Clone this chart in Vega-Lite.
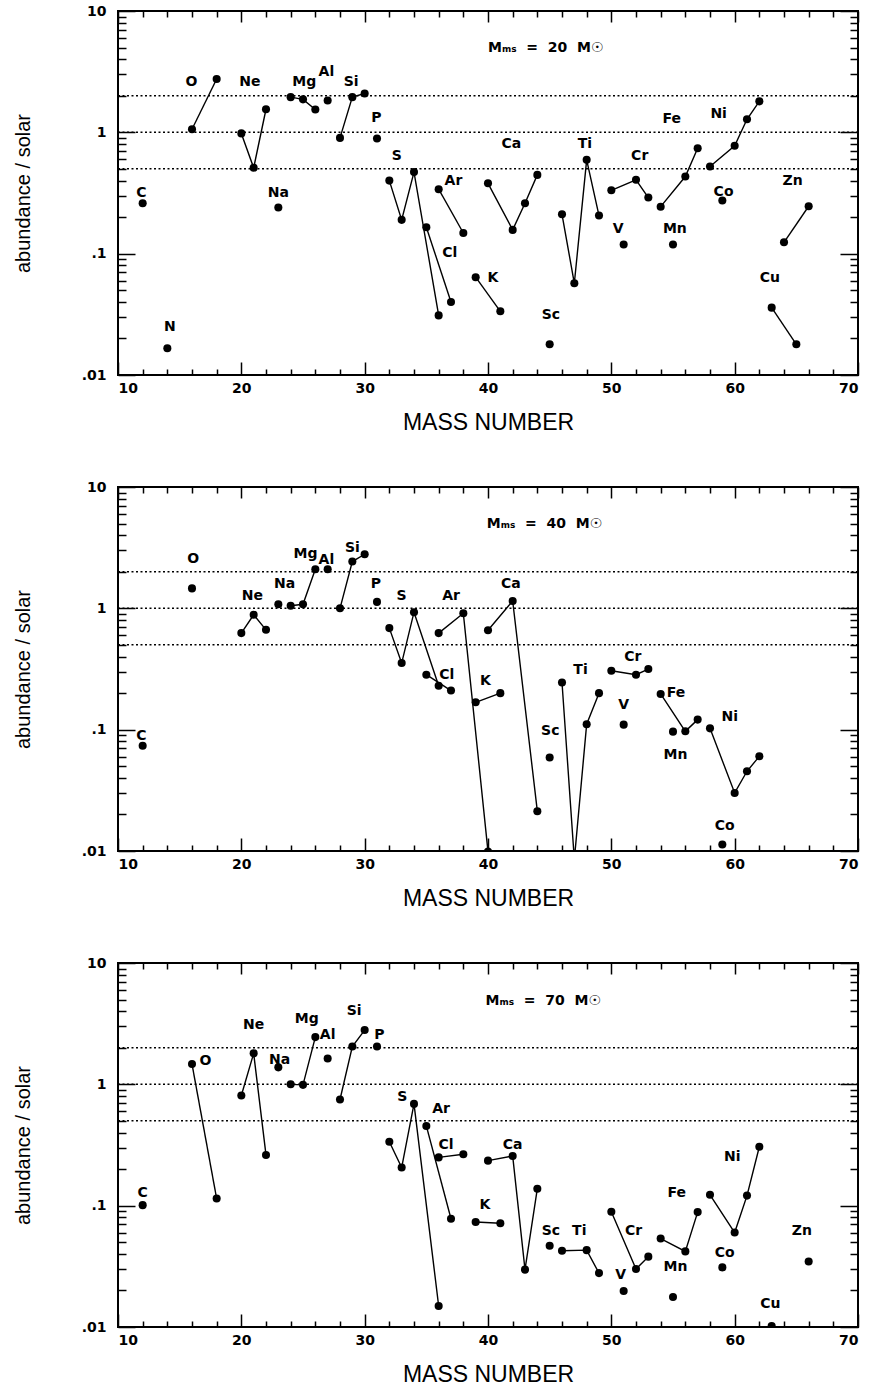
{
"$schema": "https://vega.github.io/schema/vega-lite/v6.json",
"padding": {"left": 12, "top": 3, "right": 5, "bottom": 5},
"background": "white",
"datasets": {
"refs": [{"v": 0.5}, {"v": 1}, {"v": 2}],
"titles": [
{"panel": "a", "A": 40.0, "v": 5.0, "t": "M\u2098\u209b\u00a0\u00a0=\u00a0\u00a020\u00a0\u00a0M\u2609"},
{"panel": "b", "A": 39.9, "v": 4.93, "t": "M\u2098\u209b\u00a0\u00a0=\u00a0\u00a040\u00a0\u00a0M\u2609"},
{"panel": "c", "A": 39.8, "v": 4.82, "t": "M\u2098\u209b\u00a0\u00a0=\u00a0\u00a070\u00a0\u00a0M\u2609"}
],
"pts": [
{"panel":"a","el":"C","A":12,"v":0.26},
{"panel":"a","el":"N","A":14,"v":0.0166},
{"panel":"a","el":"O","A":16,"v":1.06},{"panel":"a","el":"O","A":18,"v":2.75},
{"panel":"a","el":"Ne","A":20,"v":0.98},{"panel":"a","el":"Ne","A":21,"v":0.51},{"panel":"a","el":"Ne","A":22,"v":1.55},
{"panel":"a","el":"Na","A":23,"v":0.24},
{"panel":"a","el":"Mg","A":24,"v":1.95},{"panel":"a","el":"Mg","A":25,"v":1.87},{"panel":"a","el":"Mg","A":26,"v":1.54},
{"panel":"a","el":"Al","A":27,"v":1.83},
{"panel":"a","el":"Si","A":28,"v":0.90},{"panel":"a","el":"Si","A":29,"v":1.95},{"panel":"a","el":"Si","A":30,"v":2.09},
{"panel":"a","el":"P","A":31,"v":0.89},
{"panel":"a","el":"S","A":32,"v":0.40},{"panel":"a","el":"S","A":33,"v":0.19},{"panel":"a","el":"S","A":34,"v":0.47},{"panel":"a","el":"S","A":36,"v":0.031},
{"panel":"a","el":"Cl","A":35,"v":0.165},{"panel":"a","el":"Cl","A":37,"v":0.040},
{"panel":"a","el":"Ar","A":36,"v":0.34},{"panel":"a","el":"Ar","A":38,"v":0.148},
{"panel":"a","el":"K","A":39,"v":0.064},{"panel":"a","el":"K","A":41,"v":0.0335},
{"panel":"a","el":"Ca","A":40,"v":0.38},{"panel":"a","el":"Ca","A":42,"v":0.157},{"panel":"a","el":"Ca","A":43,"v":0.26},{"panel":"a","el":"Ca","A":44,"v":0.446},
{"panel":"a","el":"Sc","A":45,"v":0.0179},
{"panel":"a","el":"Ti","A":46,"v":0.211},{"panel":"a","el":"Ti","A":47,"v":0.057},{"panel":"a","el":"Ti","A":48,"v":0.593},{"panel":"a","el":"Ti","A":49,"v":0.206},
{"panel":"a","el":"V","A":51,"v":0.119},
{"panel":"a","el":"Cr","A":50,"v":0.333},{"panel":"a","el":"Cr","A":52,"v":0.406},{"panel":"a","el":"Cr","A":53,"v":0.29},
{"panel":"a","el":"Mn","A":55,"v":0.119},
{"panel":"a","el":"Fe","A":54,"v":0.244},{"panel":"a","el":"Fe","A":56,"v":0.432},{"panel":"a","el":"Fe","A":57,"v":0.74},
{"panel":"a","el":"Co","A":59,"v":0.274},
{"panel":"a","el":"Ni","A":58,"v":0.522},{"panel":"a","el":"Ni","A":60,"v":0.774},{"panel":"a","el":"Ni","A":61,"v":1.28},{"panel":"a","el":"Ni","A":62,"v":1.80},
{"panel":"a","el":"Cu","A":63,"v":0.0359},{"panel":"a","el":"Cu","A":65,"v":0.0179},
{"panel":"a","el":"Zn","A":64,"v":0.124},{"panel":"a","el":"Zn","A":66,"v":0.246},

{"panel":"b","el":"C","A":12,"v":0.0738},
{"panel":"b","el":"O","A":16,"v":1.46},
{"panel":"b","el":"Ne","A":20,"v":0.625},{"panel":"b","el":"Ne","A":21,"v":0.885},{"panel":"b","el":"Ne","A":22,"v":0.665},
{"panel":"b","el":"Na","A":23,"v":1.08},
{"panel":"b","el":"Mg","A":24,"v":1.05},{"panel":"b","el":"Mg","A":25,"v":1.08},{"panel":"b","el":"Mg","A":26,"v":2.10},
{"panel":"b","el":"Al","A":27,"v":2.10},
{"panel":"b","el":"Si","A":28,"v":1.0},{"panel":"b","el":"Si","A":29,"v":2.43},{"panel":"b","el":"Si","A":30,"v":2.79},
{"panel":"b","el":"P","A":31,"v":1.13},
{"panel":"b","el":"S","A":32,"v":0.687},{"panel":"b","el":"S","A":33,"v":0.354},{"panel":"b","el":"S","A":34,"v":0.93},{"panel":"b","el":"S","A":36,"v":0.23},
{"panel":"b","el":"Cl","A":35,"v":0.284},{"panel":"b","el":"Cl","A":37,"v":0.21},
{"panel":"b","el":"Ar","A":36,"v":0.625},{"panel":"b","el":"Ar","A":38,"v":0.91},{"panel":"b","el":"Ar","A":40,"v":0.0099},
{"panel":"b","el":"K","A":39,"v":0.168},{"panel":"b","el":"K","A":41,"v":0.20},
{"panel":"b","el":"Ca","A":40,"v":0.66},{"panel":"b","el":"Ca","A":42,"v":1.15},{"panel":"b","el":"Ca","A":44,"v":0.0213},
{"panel":"b","el":"Sc","A":45,"v":0.059},
{"panel":"b","el":"Ti","A":46,"v":0.245},{"panel":"b","el":"Ti","A":47,"v":0.0085},{"panel":"b","el":"Ti","A":48,"v":0.111},{"panel":"b","el":"Ti","A":49,"v":0.20},
{"panel":"b","el":"V","A":51,"v":0.11},
{"panel":"b","el":"Cr","A":50,"v":0.306},{"panel":"b","el":"Cr","A":52,"v":0.284},{"panel":"b","el":"Cr","A":53,"v":0.316},
{"panel":"b","el":"Mn","A":55,"v":0.0963},
{"panel":"b","el":"Fe","A":54,"v":0.197},{"panel":"b","el":"Fe","A":56,"v":0.0969},{"panel":"b","el":"Fe","A":57,"v":0.121},
{"panel":"b","el":"Co","A":59,"v":0.0113},
{"panel":"b","el":"Ni","A":58,"v":0.1025},{"panel":"b","el":"Ni","A":60,"v":0.0301},{"panel":"b","el":"Ni","A":61,"v":0.0454},{"panel":"b","el":"Ni","A":62,"v":0.0603},

{"panel":"c","el":"C","A":12,"v":0.101},
{"panel":"c","el":"O","A":16,"v":1.47},{"panel":"c","el":"O","A":18,"v":0.1145},
{"panel":"c","el":"Ne","A":20,"v":0.81},{"panel":"c","el":"Ne","A":21,"v":1.80},{"panel":"c","el":"Ne","A":22,"v":0.262},
{"panel":"c","el":"Na","A":23,"v":1.38},
{"panel":"c","el":"Mg","A":24,"v":1.0},{"panel":"c","el":"Mg","A":25,"v":0.99},{"panel":"c","el":"Mg","A":26,"v":2.45},
{"panel":"c","el":"Al","A":27,"v":1.63},
{"panel":"c","el":"Si","A":28,"v":0.75},{"panel":"c","el":"Si","A":29,"v":2.05},{"panel":"c","el":"Si","A":30,"v":2.80},
{"panel":"c","el":"P","A":31,"v":2.05},
{"panel":"c","el":"S","A":32,"v":0.336},{"panel":"c","el":"S","A":33,"v":0.206},{"panel":"c","el":"S","A":34,"v":0.69},{"panel":"c","el":"S","A":36,"v":0.0149},
{"panel":"c","el":"Cl","A":35,"v":0.454},{"panel":"c","el":"Cl","A":37,"v":0.078},
{"panel":"c","el":"Ar","A":36,"v":0.25},{"panel":"c","el":"Ar","A":38,"v":0.265},
{"panel":"c","el":"K","A":39,"v":0.0733},{"panel":"c","el":"K","A":41,"v":0.0716},
{"panel":"c","el":"Ca","A":40,"v":0.235},{"panel":"c","el":"Ca","A":42,"v":0.257},{"panel":"c","el":"Ca","A":43,"v":0.0297},{"panel":"c","el":"Ca","A":44,"v":0.138},
{"panel":"c","el":"Sc","A":45,"v":0.0467},
{"panel":"c","el":"Ti","A":46,"v":0.0425},{"panel":"c","el":"Ti","A":48,"v":0.043},{"panel":"c","el":"Ti","A":49,"v":0.0278},
{"panel":"c","el":"V","A":51,"v":0.0198},
{"panel":"c","el":"Cr","A":50,"v":0.089},{"panel":"c","el":"Cr","A":52,"v":0.0301},{"panel":"c","el":"Cr","A":53,"v":0.038},
{"panel":"c","el":"Mn","A":55,"v":0.0177},
{"panel":"c","el":"Fe","A":54,"v":0.0536},{"panel":"c","el":"Fe","A":56,"v":0.042},{"panel":"c","el":"Fe","A":57,"v":0.0885},
{"panel":"c","el":"Co","A":59,"v":0.031},
{"panel":"c","el":"Ni","A":58,"v":0.123},{"panel":"c","el":"Ni","A":60,"v":0.060},{"panel":"c","el":"Ni","A":61,"v":0.121},{"panel":"c","el":"Ni","A":62,"v":0.306},
{"panel":"c","el":"Cu","A":63,"v":0.0102},
{"panel":"c","el":"Zn","A":66,"v":0.0346}
],
"labels": [
{"panel":"a","t":"O","A":15.95,"v":2.58},{"panel":"a","t":"Ne","A":20.7,"v":2.58},{"panel":"a","t":"Mg","A":25.1,"v":2.58},{"panel":"a","t":"Al","A":26.9,"v":3.15},{"panel":"a","t":"Si","A":28.9,"v":2.58},{"panel":"a","t":"P","A":30.95,"v":1.31},{"panel":"a","t":"S","A":32.6,"v":0.64},{"panel":"a","t":"Ar","A":37.2,"v":0.40},{"panel":"a","t":"Ca","A":41.9,"v":0.80},{"panel":"a","t":"Ti","A":47.85,"v":0.80},{"panel":"a","t":"Cr","A":52.3,"v":0.64},{"panel":"a","t":"Fe","A":54.9,"v":1.28},{"panel":"a","t":"Ni","A":58.7,"v":1.41},{"panel":"a","t":"Zn","A":64.7,"v":0.40},{"panel":"a","t":"Co","A":59.1,"v":0.325},{"panel":"a","t":"C","A":11.9,"v":0.318},{"panel":"a","t":"Na","A":23.0,"v":0.318},{"panel":"a","t":"N","A":14.2,"v":0.025},{"panel":"a","t":"Cl","A":36.9,"v":0.102},{"panel":"a","t":"K","A":40.4,"v":0.0634},{"panel":"a","t":"Sc","A":45.1,"v":0.0312},{"panel":"a","t":"V","A":50.55,"v":0.161},{"panel":"a","t":"Mn","A":55.15,"v":0.161},{"panel":"a","t":"Cu","A":62.85,"v":0.0634},
{"panel":"b","t":"O","A":16.1,"v":2.54},{"panel":"b","t":"Ne","A":20.9,"v":1.27},{"panel":"b","t":"Na","A":23.5,"v":1.58},{"panel":"b","t":"Mg","A":25.2,"v":2.79},{"panel":"b","t":"Al","A":26.9,"v":2.49},{"panel":"b","t":"Si","A":29.0,"v":3.13},{"panel":"b","t":"P","A":30.9,"v":1.58},{"panel":"b","t":"S","A":33.0,"v":1.27},{"panel":"b","t":"Ar","A":37.0,"v":1.27},{"panel":"b","t":"Ca","A":41.85,"v":1.58},{"panel":"b","t":"Cl","A":36.65,"v":0.284},{"panel":"b","t":"K","A":39.8,"v":0.25},{"panel":"b","t":"Ti","A":47.5,"v":0.31},{"panel":"b","t":"Cr","A":51.75,"v":0.394},{"panel":"b","t":"Sc","A":45.05,"v":0.098},{"panel":"b","t":"V","A":51.0,"v":0.16},{"panel":"b","t":"Fe","A":55.25,"v":0.199},{"panel":"b","t":"Ni","A":59.6,"v":0.126},{"panel":"b","t":"Mn","A":55.2,"v":0.0623},{"panel":"b","t":"Co","A":59.2,"v":0.016},{"panel":"b","t":"C","A":11.9,"v":0.089},
{"panel":"c","t":"O","A":17.1,"v":1.56},{"panel":"c","t":"Ne","A":21.0,"v":3.1},{"panel":"c","t":"Na","A":23.1,"v":1.58},{"panel":"c","t":"Mg","A":25.3,"v":3.48},{"panel":"c","t":"Al","A":27.0,"v":2.53},{"panel":"c","t":"Si","A":29.15,"v":4.0},{"panel":"c","t":"P","A":31.2,"v":2.53},{"panel":"c","t":"S","A":33.05,"v":0.783},{"panel":"c","t":"Ar","A":36.2,"v":0.63},{"panel":"c","t":"Cl","A":36.6,"v":0.316},{"panel":"c","t":"K","A":39.75,"v":0.101},{"panel":"c","t":"Ca","A":42.0,"v":0.316},{"panel":"c","t":"Sc","A":45.1,"v":0.062},{"panel":"c","t":"Ti","A":47.4,"v":0.062},{"panel":"c","t":"Cr","A":51.8,"v":0.062},{"panel":"c","t":"V","A":50.75,"v":0.0266},{"panel":"c","t":"Mn","A":55.2,"v":0.031},{"panel":"c","t":"Fe","A":55.3,"v":0.126},{"panel":"c","t":"Ni","A":59.8,"v":0.25},{"panel":"c","t":"Co","A":59.2,"v":0.0407},{"panel":"c","t":"Cu","A":62.9,"v":0.0156},{"panel":"c","t":"Zn","A":65.45,"v":0.062},{"panel":"c","t":"C","A":12.0,"v":0.127}
]
},
"vconcat": [
{
"width": 740, "height": 364,
"resolve": {"axis": {"x": "independent", "y": "independent"}},
"layer": [
{"data": {"name": "refs"}, "mark": {"type": "rule", "color": "black", "strokeWidth": 1.5, "strokeDash": [2, 2.5]},
 "encoding": {
  "x": {"datum": 10, "type": "quantitative", "scale": {"domain": [10, 70], "nice": false, "zero": false}, "axis": {"orient": "bottom", "values": [10, 20, 30, 40, 50, 60, 70], "ticks": false, "labelPadding": 6, "title": "MASS NUMBER", "titlePadding": 16}},
  "x2": {"datum": 70},
  "y": {"field": "v", "type": "quantitative", "scale": {"type": "log", "domain": [0.01, 10], "nice": false}, "axis": {"orient": "left", "values": [0.01, 0.1, 1, 10], "ticks": false, "labelPadding": 12, "labelExpr": "datum.value == 10 ? '10' : datum.value == 1 ? '1' : datum.value == 0.1 ? '.1' : '.01'", "title": "abundance / solar", "titlePadding": 48}}}},
{"data": {"name": "pts"}, "transform": [{"filter": "datum.panel == 'a'"}], "mark": {"type": "line", "color": "black", "strokeWidth": 1.4, "clip": true},
 "encoding": {"x": {"field": "A", "type": "quantitative", "scale": {"domain": [10, 70], "nice": false, "zero": false}, "axis": {"orient": "top", "offset": -364, "values": [10, 20, 30, 40, 50, 60, 70], "tickSize": 13, "labels": false, "title": null}},
  "y": {"field": "v", "type": "quantitative", "scale": {"type": "log", "domain": [0.01, 10], "nice": false}, "axis": {"orient": "right", "offset": -740, "values": [0.01, 0.1, 1, 10], "tickSize": 17, "labels": false, "title": null}},
  "detail": {"field": "el"}, "order": {"field": "A", "type": "quantitative"}}},
{"data": {"name": "pts"}, "transform": [{"filter": "datum.panel == 'a'"}], "mark": {"type": "point", "filled": true, "color": "black", "opacity": 1, "size": 65, "clip": true},
 "encoding": {"x": {"field": "A", "type": "quantitative", "scale": {"domain": [10, 70], "nice": false, "zero": false}, "axis": {"orient": "top", "offset": -364, "values": [12,14,16,18,22,24,26,28,32,34,36,38,42,44,46,48,52,54,56,58,62,64,66,68], "tickSize": 6, "labels": false, "title": null}},
  "y": {"field": "v", "type": "quantitative", "scale": {"type": "log", "domain": [0.01, 10], "nice": false}, "axis": {"orient": "right", "offset": -740, "values": [0.02,0.03,0.04,0.05,0.06,0.07,0.08,0.09,0.2,0.3,0.4,0.5,0.6,0.7,0.8,0.9,2,3,4,5,6,7,8,9], "tickSize": 8, "labels": false, "title": null}}}},
{"data": {"name": "labels"}, "transform": [{"filter": "datum.panel == 'a'"}], "mark": {"type": "text", "font": "DejaVu Sans", "fontWeight": "bold", "fontSize": 14, "color": "black"},
 "encoding": {"x": {"field": "A", "type": "quantitative", "scale": {"domain": [10, 70], "nice": false, "zero": false}, "axis": {"orient": "bottom", "offset": -364, "values": [10, 20, 30, 40, 50, 60, 70], "tickSize": 11, "labels": false, "title": null}},
  "y": {"field": "v", "type": "quantitative", "scale": {"type": "log", "domain": [0.01, 10], "nice": false}, "axis": {"orient": "left", "offset": -740, "values": [0.01, 0.1, 1, 10], "tickSize": 18, "labels": false, "title": null}},
  "text": {"field": "t"}}},
{"data": {"name": "titles"}, "transform": [{"filter": "datum.panel == 'a'"}], "mark": {"type": "text", "align": "left", "font": "DejaVu Sans", "fontWeight": "bold", "fontSize": 14, "color": "black"},
 "encoding": {"x": {"field": "A", "type": "quantitative", "scale": {"domain": [10, 70], "nice": false, "zero": false}, "axis": {"orient": "bottom", "offset": -364, "values": [12,14,16,18,22,24,26,28,32,34,36,38,42,44,46,48,52,54,56,58,62,64,66,68], "tickSize": 6, "labels": false, "title": null}},
  "y": {"field": "v", "type": "quantitative", "scale": {"type": "log", "domain": [0.01, 10], "nice": false}, "axis": {"orient": "left", "offset": -740, "values": [0.02,0.03,0.04,0.05,0.06,0.07,0.08,0.09,0.2,0.3,0.4,0.5,0.6,0.7,0.8,0.9,2,3,4,5,6,7,8,9], "tickSize": 8, "labels": false, "title": null}},
  "text": {"field": "t"}}}
]
},
{
"width": 740, "height": 364,
"resolve": {"axis": {"x": "independent", "y": "independent"}},
"layer": [
{"data": {"name": "refs"}, "mark": {"type": "rule", "color": "black", "strokeWidth": 1.5, "strokeDash": [2, 2.5]},
 "encoding": {
  "x": {"datum": 10, "type": "quantitative", "scale": {"domain": [10, 70], "nice": false, "zero": false}, "axis": {"orient": "bottom", "values": [10, 20, 30, 40, 50, 60, 70], "ticks": false, "labelPadding": 6, "title": "MASS NUMBER", "titlePadding": 16}},
  "x2": {"datum": 70},
  "y": {"field": "v", "type": "quantitative", "scale": {"type": "log", "domain": [0.01, 10], "nice": false}, "axis": {"orient": "left", "values": [0.01, 0.1, 1, 10], "ticks": false, "labelPadding": 12, "labelExpr": "datum.value == 10 ? '10' : datum.value == 1 ? '1' : datum.value == 0.1 ? '.1' : '.01'", "title": "abundance / solar", "titlePadding": 48}}}},
{"data": {"name": "pts"}, "transform": [{"filter": "datum.panel == 'b'"}], "mark": {"type": "line", "color": "black", "strokeWidth": 1.4, "clip": true},
 "encoding": {"x": {"field": "A", "type": "quantitative", "scale": {"domain": [10, 70], "nice": false, "zero": false}, "axis": {"orient": "top", "offset": -364, "values": [10, 20, 30, 40, 50, 60, 70], "tickSize": 13, "labels": false, "title": null}},
  "y": {"field": "v", "type": "quantitative", "scale": {"type": "log", "domain": [0.01, 10], "nice": false}, "axis": {"orient": "right", "offset": -740, "values": [0.01, 0.1, 1, 10], "tickSize": 17, "labels": false, "title": null}},
  "detail": {"field": "el"}, "order": {"field": "A", "type": "quantitative"}}},
{"data": {"name": "pts"}, "transform": [{"filter": "datum.panel == 'b'"}], "mark": {"type": "point", "filled": true, "color": "black", "opacity": 1, "size": 65, "clip": true},
 "encoding": {"x": {"field": "A", "type": "quantitative", "scale": {"domain": [10, 70], "nice": false, "zero": false}, "axis": {"orient": "top", "offset": -364, "values": [12,14,16,18,22,24,26,28,32,34,36,38,42,44,46,48,52,54,56,58,62,64,66,68], "tickSize": 6, "labels": false, "title": null}},
  "y": {"field": "v", "type": "quantitative", "scale": {"type": "log", "domain": [0.01, 10], "nice": false}, "axis": {"orient": "right", "offset": -740, "values": [0.02,0.03,0.04,0.05,0.06,0.07,0.08,0.09,0.2,0.3,0.4,0.5,0.6,0.7,0.8,0.9,2,3,4,5,6,7,8,9], "tickSize": 8, "labels": false, "title": null}}}},
{"data": {"name": "labels"}, "transform": [{"filter": "datum.panel == 'b'"}], "mark": {"type": "text", "font": "DejaVu Sans", "fontWeight": "bold", "fontSize": 14, "color": "black"},
 "encoding": {"x": {"field": "A", "type": "quantitative", "scale": {"domain": [10, 70], "nice": false, "zero": false}, "axis": {"orient": "bottom", "offset": -364, "values": [10, 20, 30, 40, 50, 60, 70], "tickSize": 11, "labels": false, "title": null}},
  "y": {"field": "v", "type": "quantitative", "scale": {"type": "log", "domain": [0.01, 10], "nice": false}, "axis": {"orient": "left", "offset": -740, "values": [0.01, 0.1, 1, 10], "tickSize": 18, "labels": false, "title": null}},
  "text": {"field": "t"}}},
{"data": {"name": "titles"}, "transform": [{"filter": "datum.panel == 'b'"}], "mark": {"type": "text", "align": "left", "font": "DejaVu Sans", "fontWeight": "bold", "fontSize": 14, "color": "black"},
 "encoding": {"x": {"field": "A", "type": "quantitative", "scale": {"domain": [10, 70], "nice": false, "zero": false}, "axis": {"orient": "bottom", "offset": -364, "values": [12,14,16,18,22,24,26,28,32,34,36,38,42,44,46,48,52,54,56,58,62,64,66,68], "tickSize": 6, "labels": false, "title": null}},
  "y": {"field": "v", "type": "quantitative", "scale": {"type": "log", "domain": [0.01, 10], "nice": false}, "axis": {"orient": "left", "offset": -740, "values": [0.02,0.03,0.04,0.05,0.06,0.07,0.08,0.09,0.2,0.3,0.4,0.5,0.6,0.7,0.8,0.9,2,3,4,5,6,7,8,9], "tickSize": 8, "labels": false, "title": null}},
  "text": {"field": "t"}}}
]
},
{
"width": 740, "height": 364,
"resolve": {"axis": {"x": "independent", "y": "independent"}},
"layer": [
{"data": {"name": "refs"}, "mark": {"type": "rule", "color": "black", "strokeWidth": 1.5, "strokeDash": [2, 2.5]},
 "encoding": {
  "x": {"datum": 10, "type": "quantitative", "scale": {"domain": [10, 70], "nice": false, "zero": false}, "axis": {"orient": "bottom", "values": [10, 20, 30, 40, 50, 60, 70], "ticks": false, "labelPadding": 6, "title": "MASS NUMBER", "titlePadding": 16}},
  "x2": {"datum": 70},
  "y": {"field": "v", "type": "quantitative", "scale": {"type": "log", "domain": [0.01, 10], "nice": false}, "axis": {"orient": "left", "values": [0.01, 0.1, 1, 10], "ticks": false, "labelPadding": 12, "labelExpr": "datum.value == 10 ? '10' : datum.value == 1 ? '1' : datum.value == 0.1 ? '.1' : '.01'", "title": "abundance / solar", "titlePadding": 48}}}},
{"data": {"name": "pts"}, "transform": [{"filter": "datum.panel == 'c'"}], "mark": {"type": "line", "color": "black", "strokeWidth": 1.4, "clip": true},
 "encoding": {"x": {"field": "A", "type": "quantitative", "scale": {"domain": [10, 70], "nice": false, "zero": false}, "axis": {"orient": "top", "offset": -364, "values": [10, 20, 30, 40, 50, 60, 70], "tickSize": 13, "labels": false, "title": null}},
  "y": {"field": "v", "type": "quantitative", "scale": {"type": "log", "domain": [0.01, 10], "nice": false}, "axis": {"orient": "right", "offset": -740, "values": [0.01, 0.1, 1, 10], "tickSize": 17, "labels": false, "title": null}},
  "detail": {"field": "el"}, "order": {"field": "A", "type": "quantitative"}}},
{"data": {"name": "pts"}, "transform": [{"filter": "datum.panel == 'c'"}], "mark": {"type": "point", "filled": true, "color": "black", "opacity": 1, "size": 65, "clip": true},
 "encoding": {"x": {"field": "A", "type": "quantitative", "scale": {"domain": [10, 70], "nice": false, "zero": false}, "axis": {"orient": "top", "offset": -364, "values": [12,14,16,18,22,24,26,28,32,34,36,38,42,44,46,48,52,54,56,58,62,64,66,68], "tickSize": 6, "labels": false, "title": null}},
  "y": {"field": "v", "type": "quantitative", "scale": {"type": "log", "domain": [0.01, 10], "nice": false}, "axis": {"orient": "right", "offset": -740, "values": [0.02,0.03,0.04,0.05,0.06,0.07,0.08,0.09,0.2,0.3,0.4,0.5,0.6,0.7,0.8,0.9,2,3,4,5,6,7,8,9], "tickSize": 8, "labels": false, "title": null}}}},
{"data": {"name": "labels"}, "transform": [{"filter": "datum.panel == 'c'"}], "mark": {"type": "text", "font": "DejaVu Sans", "fontWeight": "bold", "fontSize": 14, "color": "black"},
 "encoding": {"x": {"field": "A", "type": "quantitative", "scale": {"domain": [10, 70], "nice": false, "zero": false}, "axis": {"orient": "bottom", "offset": -364, "values": [10, 20, 30, 40, 50, 60, 70], "tickSize": 11, "labels": false, "title": null}},
  "y": {"field": "v", "type": "quantitative", "scale": {"type": "log", "domain": [0.01, 10], "nice": false}, "axis": {"orient": "left", "offset": -740, "values": [0.01, 0.1, 1, 10], "tickSize": 18, "labels": false, "title": null}},
  "text": {"field": "t"}}},
{"data": {"name": "titles"}, "transform": [{"filter": "datum.panel == 'c'"}], "mark": {"type": "text", "align": "left", "font": "DejaVu Sans", "fontWeight": "bold", "fontSize": 14, "color": "black"},
 "encoding": {"x": {"field": "A", "type": "quantitative", "scale": {"domain": [10, 70], "nice": false, "zero": false}, "axis": {"orient": "bottom", "offset": -364, "values": [12,14,16,18,22,24,26,28,32,34,36,38,42,44,46,48,52,54,56,58,62,64,66,68], "tickSize": 6, "labels": false, "title": null}},
  "y": {"field": "v", "type": "quantitative", "scale": {"type": "log", "domain": [0.01, 10], "nice": false}, "axis": {"orient": "left", "offset": -740, "values": [0.02,0.03,0.04,0.05,0.06,0.07,0.08,0.09,0.2,0.3,0.4,0.5,0.6,0.7,0.8,0.9,2,3,4,5,6,7,8,9], "tickSize": 8, "labels": false, "title": null}},
  "text": {"field": "t"}}}
]
}
],
"spacing": 112,
"bounds": "flush",
"config": {
 "view": {"stroke": "black", "strokeWidth": 2},
 "axis": {"grid": false, "domain": false, "tickColor": "black", "tickWidth": 1.5, "labelColor": "black", "labelFont": "DejaVu Sans", "labelFontWeight": "bold", "labelFontSize": 14, "titleColor": "black", "titleFont": "Liberation Sans", "titleFontWeight": "normal", "titleFontSize": 20},
 "axisX": {"titleFontSize": 23}
}
}
